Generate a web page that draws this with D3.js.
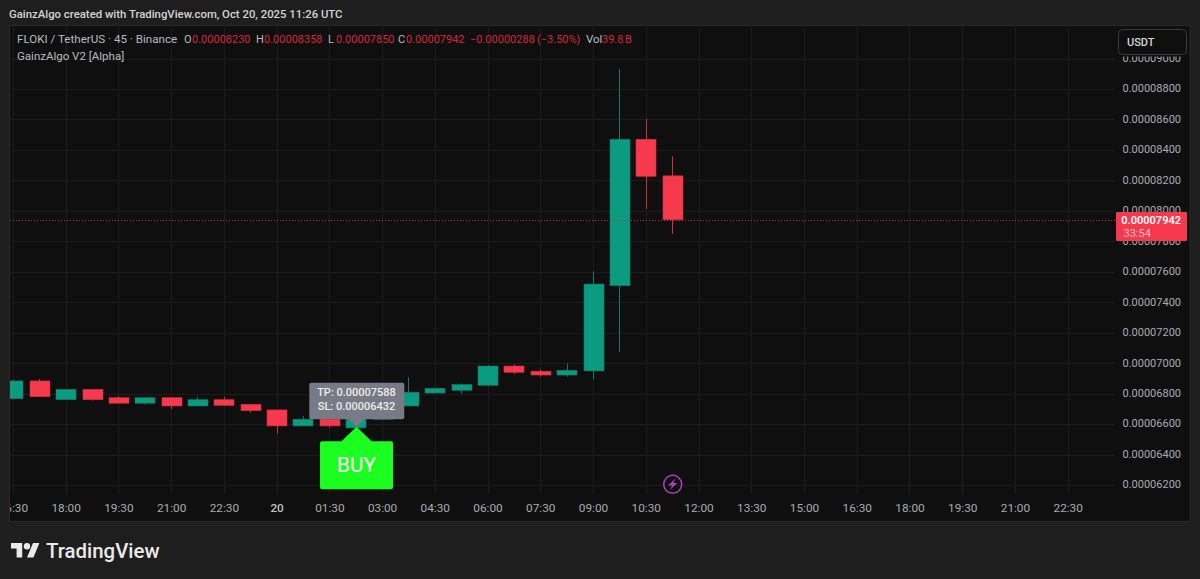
<!DOCTYPE html>
<html><head><meta charset="utf-8">
<script src="https://cdnjs.cloudflare.com/ajax/libs/d3/7.9.0/d3.min.js"></script>
<style>html,body{margin:0;padding:0;background:#1e1e1e;overflow:hidden}svg{display:block}text{font-family:Roboto,sans-serif}</style>
</head><body><svg id="c" width="1200" height="579"></svg>
<script>
// prices in units of 1e-8 USDT
const times = ["16:30","17:15","18:00","18:45","19:30","20:15","21:00","21:45","22:30","23:15","20","00:45","01:30","02:15","03:00","03:45","04:30","05:15","06:00","06:45","07:30","08:15","09:00","09:45","10:30","11:15"];
const opens  = [6768,6884,6761,6829,6774,6738,6774,6720,6761,6731,6694,6589,6633,6576,6633,6720,6805,6823,6856,6982,6948,6923,6950,7509,8470,8230];
const highs  = [6894,6897,6829,6829,6785,6774,6779,6779,6779,6731,6694,6654,6633,6630,6720,6908,6840,6866,6989,6994,6961,7000,7601,8931,8603,8358];
const lows   = [6764,6781,6761,6755,6738,6728,6700,6720,6724,6676,6538,6589,6576,6589,6633,6720,6805,6801,6849,6928,6912,6912,6892,7076,8013,7850];
const closes = [6884,6781,6829,6761,6738,6774,6720,6761,6724,6689,6589,6633,6589,6633,6720,6810,6836,6860,6982,6941,6923,6954,7520,8470,8227,7942];
const priceTicks = d3.range(6200, 9001, 200);
const timeTickLabels = ["16:30","18:00","19:30","21:00","22:30","20","01:30","03:00","04:30","06:00","07:30","09:00","10:30","12:00","13:30","15:00","16:30","18:00","19:30","21:00","22:30"];
const lastPrice = 7942, takeProfit = 7588, stopLoss = 6432, buyIndex = 13;
const legendOHLC = [["O","0.00008230"],["H","0.00008358"],["L","0.00007850"],["C","0.00007942"]];

const upBody="#0a9b81", upWick="#0c7a68", down="#f7394d", downWick="#d32f40", grid="#1c1c1c", axisText="#a9abb2", panel="#0f0f0f";
const fmt = v => (v*1e-8).toFixed(8);
const svg = d3.select("#c");
const y = d3.scaleLinear().domain([6200,9000]).range([485.2,58.5]);
const x = d3.scaleLinear().domain([0,1]).range([13.4,39.77]);

svg.append("rect").attr("width",1200).attr("height",579).attr("fill","#1e1e1e");
svg.append("rect").attr("x",9.5).attr("y",25.5).attr("width",1180.5).attr("height",496).attr("fill",panel).attr("stroke","#2a2a2a");
const defs = svg.append("defs");
defs.append("clipPath").attr("id","plot").append("rect").attr("x",10).attr("y",26).attr("width",1105).attr("height",469);
defs.append("clipPath").attr("id","xa").append("rect").attr("x",10).attr("y",495).attr("width",1105).attr("height",26);

// grid
const plot = svg.append("g").attr("clip-path","url(#plot)");
const tickIdx = timeTickLabels.map((_,i)=>i*2);
plot.append("g").selectAll("line").data(tickIdx).join("line")
  .attr("x1",d=>Math.floor(x(d))+.5).attr("x2",d=>Math.floor(x(d))+.5).attr("y1",26).attr("y2",495).attr("stroke",grid);
plot.append("g").selectAll("line").data(priceTicks).join("line")
  .attr("x1",10).attr("x2",1115).attr("y1",d=>Math.round(y(d))+.5).attr("y2",d=>Math.round(y(d))+.5).attr("stroke",grid);

// candles
const bars = times.map((t,i)=>({t,i,o:opens[i],h:highs[i],l:lows[i],c:closes[i]}));
const g = plot.append("g").selectAll("g").data(bars).join("g");
const col = d=>d.c>=d.o?upBody:down;
g.append("line").attr("x1",d=>Math.floor(x(d.i))+.5).attr("x2",d=>Math.floor(x(d.i))+.5)
  .attr("y1",d=>y(d.h)).attr("y2",d=>y(d.l)).attr("stroke",d=>d.c>=d.o?upWick:downWick);
g.append("rect").attr("x",d=>Math.round(x(d.i))-10).attr("width",20)
  .attr("y",d=>y(Math.max(d.o,d.c))).attr("height",d=>Math.max(1,Math.abs(y(d.o)-y(d.c))))
  .attr("fill",col).attr("stroke",d=>d.c>=d.o?"#0b7f6c":"#d2303f").attr("stroke-width",.6);

// price line
plot.append("line").attr("x1",10).attr("x2",1115).attr("y1",Math.round(y(lastPrice))+.5).attr("y2",Math.round(y(lastPrice))+.5)
  .attr("stroke","#c8303f").attr("stroke-dasharray","1 2");

// y axis
const ya = svg.append("g").attr("transform","translate(1181,-0.8)")
  .call(d3.axisLeft(y).tickValues(priceTicks).tickFormat(fmt).tickSize(0).tickPadding(0));
ya.select(".domain").remove();
ya.selectAll("text").attr("fill",axisText).style("font-size","11px").style("font-family","Roboto");
svg.append("rect").attr("x",1116).attr("y",26).attr("width",73).attr("height",30.5).attr("fill",panel);

// x axis
svg.append("g").attr("clip-path","url(#xa)").selectAll("text").data(timeTickLabels).join("text")
  .attr("x",(d,i)=>x(i*2)).attr("y",512).attr("text-anchor","middle").attr("fill",d=>d==="20"?"#c0c2c8":axisText)
  .attr("font-size",11.8).attr("font-weight",d=>d==="20"?500:400).text(d=>d);

// USDT box
svg.append("rect").attr("x",1118.5).attr("y",29.5).attr("width",68).attr("height",25).attr("rx",4).attr("fill",panel).attr("stroke","#3a3a3a");
svg.append("text").attr("x",1127).attr("y",46).attr("font-size",11).attr("font-weight",500).attr("fill","#d6d6d6").text("USDT");

// price tag
svg.append("rect").attr("x",1116).attr("y",212).attr("width",71).attr("height",29).attr("rx",1).attr("fill",down);
svg.append("text").attr("x",1181).attr("y",224).attr("text-anchor","end").attr("font-size",11).attr("font-weight",600).attr("fill","#fff").text(fmt(lastPrice));
svg.append("text").attr("x",1123.5).attr("y",237).attr("font-size",11).attr("fill","#ffc2c8").text("33:54");

// headers
svg.append("text").attr("x",9).attr("y",18).attr("font-size",11.35).attr("font-weight",500).attr("fill","#d4d4d4")
  .text("GainzAlgo created with TradingView.com, Oct 20, 2025 11:26 UTC");
svg.append("text").attr("x",17).attr("y",43).attr("font-size",11.6).attr("fill","#b8bac0").text("FLOKI / TetherUS · 45 · Binance");
svg.append("text").attr("x",17).attr("y",60).attr("font-size",11.5).attr("fill","#b8bac0").text("GainzAlgo V2 [Alpha]");
const redText="#d3293c";
legendOHLC.forEach(([k,v],i)=>{
  const x0=[184,256,328,398][i];
  svg.append("text").attr("x",x0).attr("y",43).attr("font-size",11).attr("fill","#b8bac0").text(k);
  svg.append("text").attr("x",x0+8).attr("y",43).attr("font-size",11).attr("fill",redText).text(v);
});
svg.append("text").attr("x",470).attr("y",43).attr("font-size",11).attr("fill",redText).text("−0.00000288");
svg.append("text").attr("x",537).attr("y",43).attr("font-size",11).attr("fill",redText).text("(−3.50%)");
svg.append("text").attr("x",586).attr("y",43).attr("font-size",11.5).attr("fill","#b8bac0").text("Vol");
svg.append("text").attr("x",602).attr("y",43).attr("font-size",11).attr("fill",redText).text("39.8");
svg.append("text").attr("x",625).attr("y",43).attr("font-size",11).attr("fill",redText).text("B");

// BUY label
const bx = x(buyIndex)+.3, tip = 426.7;
svg.append("path").attr("fill","#1aff1f").attr("d",`M${bx-36.5} 443.3Q${bx-36.5} 441.3 ${bx-34.5} 441.3H${bx-15}L${bx} ${tip}L${bx+15} 441.3H${bx+34.5}Q${bx+36.5} 441.3 ${bx+36.5} 443.3V487.3Q${bx+36.5} 489.3 ${bx+34.5} 489.3H${bx-34.5}Q${bx-36.5} 489.3 ${bx-36.5} 487.3Z`);
svg.append("text").attr("x",bx).attr("y",472).attr("text-anchor","middle").attr("font-size",21).attr("font-weight",400).attr("textLength",39).attr("lengthAdjust","spacingAndGlyphs").attr("fill","#fff").text("BUY");
// tooltip
svg.append("path").attr("fill","#787b86").attr("d",`M311.3 382.7H402.3Q404.3 382.7 404.3 384.7V417.3Q404.3 419.3 402.3 419.3H${bx+8}L${bx} ${tip}L${bx-8} 419.3H311.3Q309.3 419.3 309.3 417.3V384.7Q309.3 382.7 311.3 382.7Z`);
svg.append("text").attr("x",bx).attr("y",396.2).attr("text-anchor","middle").attr("font-size",11).attr("font-weight",500).attr("fill","#ececec").text("TP: "+fmt(takeProfit));
svg.append("text").attr("x",bx).attr("y",409.8).attr("text-anchor","middle").attr("font-size",11).attr("font-weight",500).attr("fill","#ececec").text("SL: "+fmt(stopLoss));

// bolt icon
const ic = svg.append("g").attr("transform","translate(672.7,484.3)");
ic.append("circle").attr("r",9).attr("fill","none").attr("stroke","#b23fc4").attr("stroke-width",1.4);
ic.append("path").attr("d","M3 -6L-4.5 1.3H-0.5L-3 6L4.5 -1.3H0.5Z").attr("fill","#b23fc4");

// logo
svg.append("g").attr("transform","translate(11,539.8) scale(.8)").attr("fill","#eaeaea").html('<path d="M14 22H7V11H0V4h14v18zM28 22h-8l7.5-18h8L28 22z"/><circle cx="20" cy="8" r="4"/>');
svg.append("text").attr("x",46).attr("y",557.5).attr("font-size",20.4).attr("font-weight",500).attr("fill","#eaeaea").text("TradingView");
</script></body></html>
